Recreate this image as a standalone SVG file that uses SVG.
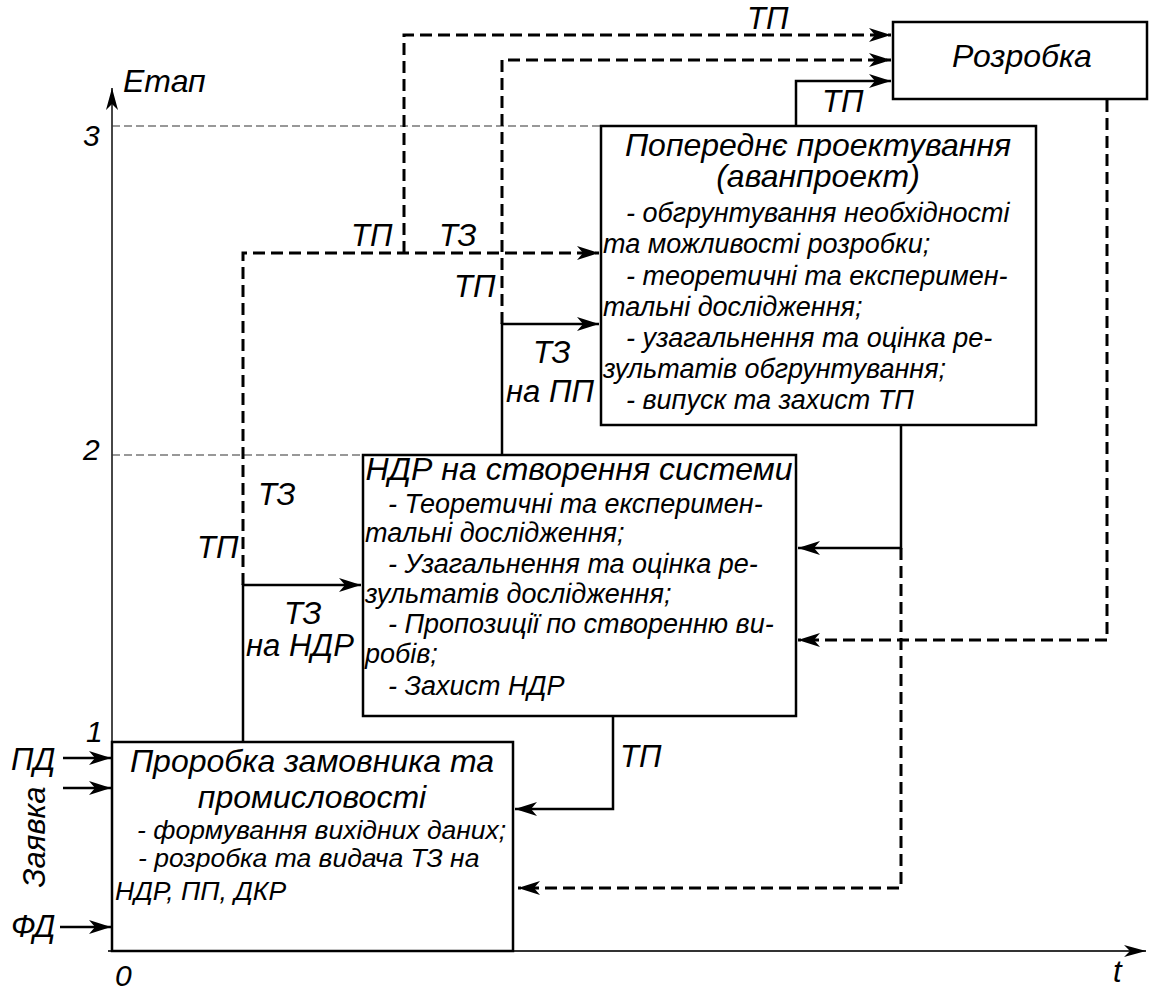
<svg xmlns="http://www.w3.org/2000/svg" width="1149" height="990" viewBox="0 0 1149 990">
  <style>
    text { font-family: "Liberation Sans", Arial, sans-serif; font-style: italic; fill: #000; }
    .lbl { font-size: 31px; }
    .num { font-size: 30px; }
    .title { font-size: 32px; }
    .body { font-size: 27px; }
    .body2 { font-size: 26.5px; }
    .mid { text-anchor: middle; }
    .box { fill: #fff; stroke: #000; stroke-width: 2.5; }
    .solid { fill: none; stroke: #000; stroke-width: 2.5; }
    .dash { fill: none; stroke: #000; stroke-width: 3; stroke-dasharray: 12 6; }
    .guide { fill: none; stroke: #333; stroke-width: 1.2; stroke-dasharray: 8 4; }
    .axis { fill: none; stroke: #333; stroke-width: 1.8; }
  </style>
  <defs>
    <marker id="arr" markerUnits="userSpaceOnUse" markerWidth="24" markerHeight="16" refX="22" refY="8" orient="auto">
      <path d="M0,1 L22,8 L0,15 L6,8 Z" fill="#000"/>
    </marker>
    <marker id="arrAxis" markerUnits="userSpaceOnUse" markerWidth="24" markerHeight="16" refX="22" refY="8" orient="auto">
      <path d="M0,2 L22,8 L0,14 L6,8 Z" fill="#000"/>
    </marker>
  </defs>

  <rect width="1149" height="990" fill="#fff"/>

  <!-- stage axes and level guides -->
  <g id="axes">
    <line class="axis" x1="112" y1="952" x2="112" y2="88" marker-end="url(#arrAxis)"/>
    <line class="axis" x1="108" y1="951" x2="1146" y2="951" marker-end="url(#arrAxis)"/>
    <line class="guide" x1="112" y1="126" x2="601" y2="126"/>
    <line class="guide" x1="112" y1="455" x2="363" y2="455"/>
    <text class="lbl" x="123" y="92" style="font-size:32px">Етап</text>
    <text class="num" x="83" y="146">3</text>
    <text class="num" x="83" y="460">2</text>
    <text class="num" x="86" y="742">1</text>
    <text class="num" x="115" y="986">0</text>
    <text class="lbl" x="1113" y="982">t</text>
  </g>

  <!-- connectors -->
  <g id="connectors">
    <!-- from customer stage -->
    <polyline class="solid" points="243,742 243,585 361,585" marker-end="url(#arr)"/>
    <polyline class="dash" points="243,585 243,253 599,253" marker-end="url(#arr)"/>
    <polyline class="dash" points="404,253 404,35 891,35" marker-end="url(#arr)"/>
    <!-- from research stage -->
    <polyline class="solid" points="502,455 502,324 599,324" marker-end="url(#arr)"/>
    <polyline class="dash" points="502,324 502,60 891,60" marker-end="url(#arr)"/>
    <!-- from preliminary design -->
    <polyline class="solid" points="796,126 796,81 891,81" marker-end="url(#arr)"/>
    <polyline class="solid" points="901,425 901,548 798,548" marker-end="url(#arr)"/>
    <polyline class="dash" points="901,548 901,888 518,888" marker-end="url(#arr)"/>
    <!-- from development -->
    <polyline class="dash" points="1107,100 1107,640 798,640" marker-end="url(#arr)"/>
    <!-- research back to customer -->
    <polyline class="solid" points="613,716 613,809 515,809" marker-end="url(#arr)"/>
    <!-- inputs -->
    <line class="solid" x1="63" y1="758" x2="111" y2="758" marker-end="url(#arr)"/>
    <line class="solid" x1="63" y1="788" x2="111" y2="788" marker-end="url(#arr)"/>
    <line class="solid" x1="60" y1="927" x2="111" y2="927" marker-end="url(#arr)"/>

    <!-- connector labels -->
    <text class="lbl" x="747" y="29">ТП</text>
    <text class="lbl" x="822" y="112">ТП</text>
    <text class="lbl" x="351" y="246">ТП</text>
    <text class="lbl" x="439" y="246">ТЗ</text>
    <text class="lbl" x="454" y="297">ТП</text>
    <text class="lbl" x="533" y="363">ТЗ</text>
    <text class="lbl" x="506" y="402">на ПП</text>
    <text class="lbl" x="258" y="505">ТЗ</text>
    <text class="lbl" x="197" y="558">ТП</text>
    <text class="lbl" x="284" y="624">ТЗ</text>
    <text class="lbl" x="246" y="656">на НДР</text>
    <text class="lbl" x="620" y="767">ТП</text>
    <text class="lbl" x="11" y="770">ПД</text>
    <text class="lbl" x="11" y="937">ФД</text>
    <text class="lbl mid" transform="translate(45,837) rotate(-90)">Заявка</text>
  </g>

  <!-- stage 1: customer and industry -->
  <g id="node-customer">
    <rect class="box" x="112" y="742" width="401" height="209"/>
    <text class="title mid" x="312" y="772">Проробка замовника та</text>
    <text class="title mid" x="312" y="808">промисловості</text>
    <text class="body2" x="137" y="839">- формування вихідних даних;</text>
    <text class="body2" x="138" y="867">- розробка та видача ТЗ на</text>
    <text class="body2" x="115" y="900">НДР, ПП, ДКР</text>
  </g>

  <!-- stage 2: research work -->
  <g id="node-research">
    <rect class="box" x="363" y="455" width="433" height="261"/>
    <text class="title mid" x="579" y="480">НДР на створення системи</text>
    <text class="body" x="388" y="513">- Теоретичні та експеримен-</text>
    <text class="body" x="365" y="542">тальні дослідження;</text>
    <text class="body" x="388" y="573">- Узагальнення та оцінка ре-</text>
    <text class="body" x="365" y="603">зультатів дослідження;</text>
    <text class="body" x="388" y="633">- Пропозиції по створенню ви-</text>
    <text class="body" x="365" y="663">робів;</text>
    <text class="body" x="388" y="695">- Захист НДР</text>
  </g>

  <!-- stage 3: preliminary design -->
  <g id="node-predesign">
    <rect class="box" x="601" y="126" width="435" height="299"/>
    <text class="title mid" x="818" y="156">Попереднє проектування</text>
    <text class="title mid" x="818" y="187">(аванпроект)</text>
    <text class="body" x="626" y="222">- обгрунтування необхідності</text>
    <text class="body" x="603" y="253">та можливості розробки;</text>
    <text class="body" x="626" y="285">- теоретичні та експеримен-</text>
    <text class="body" x="603" y="316">тальні дослідження;</text>
    <text class="body" x="626" y="347">- узагальнення та оцінка ре-</text>
    <text class="body" x="603" y="378">зультатів обгрунтування;</text>
    <text class="body" x="626" y="409">- випуск та захист ТП</text>
  </g>

  <!-- development -->
  <g id="node-development">
    <rect class="box" x="893" y="22" width="254" height="77"/>
    <text class="title mid" x="1022" y="67">Розробка</text>
  </g>
</svg>
